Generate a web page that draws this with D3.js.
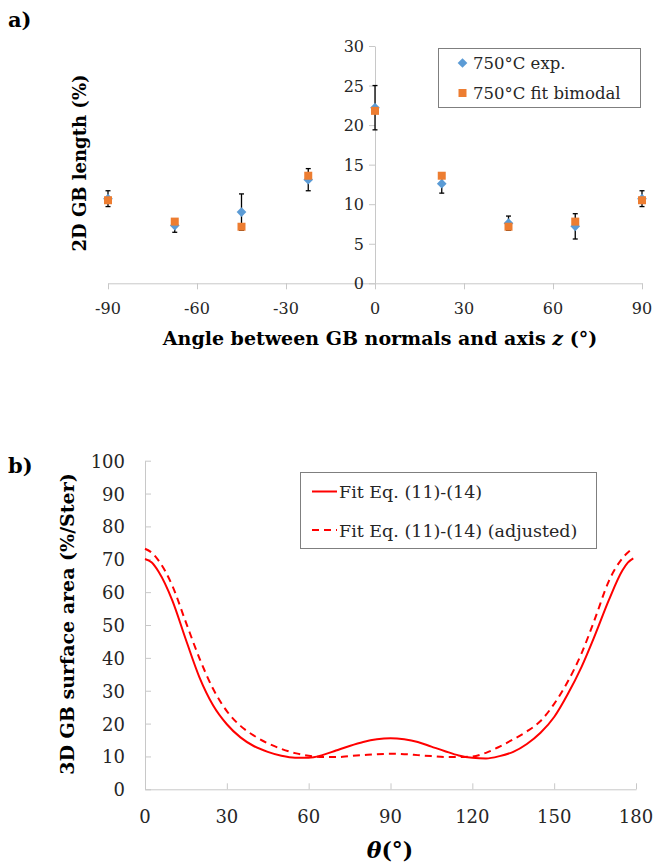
<!DOCTYPE html>
<html>
<head>
<meta charset="utf-8">
<script src="https://cdn.jsdelivr.net/npm/d3@7"></script>
<style>
  body { margin: 0; background: #fff; }
  svg { display: block; font-family: 'DejaVu Serif', serif; }
</style>
</head>
<body>
<div id="chart"></div>
<script>
// panel a data: 2D GB length vs angle
const anglesA = [-90, -67.5, -45, -22.5, 0, 22.5, 45, 67.5, 90];
const expVals = [10.7, 7.3, 9.0, 13.1, 22.2, 12.6, 7.6, 7.2, 10.7];
const expErr = [1.0, 0.85, 2.3, 1.4, 2.8, 1.2, 0.9, 1.6, 1.0];
const fitVals = [10.5, 7.8, 7.15, 13.6, 21.8, 13.6, 7.15, 7.8, 10.5];
const ticksAx = [-90, -60, -30, 0, 30, 60, 90];
const ticksAy = [0, 5, 10, 15, 20, 25, 30];

// panel b data: 3D GB surface area vs theta
const thetaFit = [0, 2.5, 5, 10, 15, 20, 25, 30, 35, 40, 45, 50, 55, 60, 65, 70, 75, 80, 85, 90,
  95, 100, 105, 110, 115, 120, 125, 130, 135, 140, 145, 150, 155, 160, 165, 170, 175, 177, 179];
const fitSolid = [70.1, 69.0, 66.2, 57.5, 45.5, 34.0, 25.5, 19.8, 15.8, 13.1, 11.4, 10.2, 9.6, 9.6, 10.4, 11.8, 13.2, 14.4, 15.2, 15.5,
  15.2, 14.4, 13.0, 11.6, 10.3, 9.6, 9.4, 10.1, 11.4, 13.8, 17.2, 22.0, 29.0, 37.2, 47.0, 57.5, 66.6, 69.0, 70.3];
const thetaAdj = [0, 2.5, 5, 10, 15, 20, 25, 30, 35, 40, 45, 50, 55, 60, 65, 70, 75, 80, 85, 90,
  95, 100, 105, 110, 115, 120, 125, 130, 135, 140, 145, 150, 155, 160, 165, 170, 175, 178];
const fitAdjusted = [73.2, 72.0, 69.6, 62.0, 50.8, 39.8, 30.5, 23.8, 19.3, 16.3, 14.0, 12.3, 11.0, 10.2, 9.8, 9.8, 10.1, 10.4, 10.7, 10.8,
  10.7, 10.4, 10.1, 9.8, 9.8, 10.0, 11.1, 13.0, 15.2, 17.6, 20.8, 26.0, 32.8, 41.3, 52.0, 63.3, 70.3, 72.8];
const ticksBx = [0, 30, 60, 90, 120, 150, 180];
const ticksBy = [0, 10, 20, 30, 40, 50, 60, 70, 80, 90, 100];

const W = 656, H = 866;
const axisGrey = "#c8c8c8";
const textCol = "#262626";
const blue = "#5b9bd5", orange = "#ed7d31", red = "#ff0000";

const svg = d3.select("#chart").append("svg")
    .attr("width", W).attr("height", H);
svg.append("rect").attr("width", W).attr("height", H).attr("fill", "#fff");

// ---------- panel a ----------
const xa = d3.scaleLinear().domain([-90, 90]).range([108, 642]);
const ya = d3.scaleLinear().domain([0, 30]).range([283.3, 46]);

svg.append("text").attr("x", 8).attr("y", 27)
    .style("font-size", "21px").style("font-weight", "bold").text("a)");

const gA = svg.append("g");
// x axis (outside ticks)
gA.append("g").attr("transform", `translate(0,${ya(0)})`)
    .call(d3.axisBottom(xa).tickValues(ticksAx).tickSize(6).tickSizeOuter(0).tickFormat(""))
    .call(g => g.select(".domain").attr("stroke", axisGrey))
    .call(g => g.selectAll(".tick line").attr("stroke", axisGrey));
gA.selectAll(".xlab").data(ticksAx).join("text")
    .attr("x", d => xa(d)).attr("y", 314)
    .attr("text-anchor", "middle").style("font-size", "16px").attr("fill", textCol)
    .text(d => d);

// y axis at x = 0
gA.append("g").attr("transform", `translate(${xa(0)},0)`)
    .call(d3.axisLeft(ya).tickValues(ticksAy).tickSize(6).tickSizeOuter(0).tickFormat(""))
    .call(g => g.select(".domain").attr("stroke", axisGrey))
    .call(g => g.selectAll(".tick line").attr("stroke", axisGrey));
gA.selectAll(".ylab").data(ticksAy).join("text")
    .attr("x", xa(0) - 11).attr("y", d => ya(d) + 6)
    .attr("text-anchor", "end").style("font-size", "16px").attr("fill", textCol)
    .text(d => d);

// error bars
const errG = gA.append("g").attr("stroke", "#000").attr("stroke-width", 1.3);
anglesA.forEach((a, i) => {
    const x = xa(a), y0 = ya(expVals[i] - expErr[i]), y1 = ya(expVals[i] + expErr[i]);
    errG.append("line").attr("x1", x).attr("x2", x).attr("y1", y0).attr("y2", y1);
    errG.append("line").attr("x1", x - 2.5).attr("x2", x + 2.5).attr("y1", y0).attr("y2", y0);
    errG.append("line").attr("x1", x - 2.5).attr("x2", x + 2.5).attr("y1", y1).attr("y2", y1);
});

const diamond = d3.symbol().type(d3.symbolDiamond2).size(60);
const square = d3.symbol().type(d3.symbolSquare).size(64);

gA.append("g").selectAll("path").data(anglesA).join("path")
    .attr("transform", (d, i) => `translate(${xa(d)},${ya(expVals[i])})`)
    .attr("d", diamond).attr("fill", blue);
gA.append("g").selectAll("rect").data(anglesA).join("path")
    .attr("transform", (d, i) => `translate(${xa(d)},${ya(fitVals[i])})`)
    .attr("d", square).attr("fill", orange);

// titles
svg.append("text").attr("x", 380).attr("y", 345)
    .attr("text-anchor", "middle").style("font-size", "19px").style("font-weight", "bold")
    .call(t => {
        t.append("tspan").text("Angle between GB normals and axis ");
        t.append("tspan").style("font-style", "italic").text("z");
        t.append("tspan").text(" (°)");
    });
svg.append("text").attr("transform", "translate(86,163) rotate(-90)")
    .attr("text-anchor", "middle").style("font-size", "18px").style("font-weight", "bold")
    .text("2D GB length (%)");

// legend a
const legA = svg.append("g");
legA.append("rect").attr("x", 438.5).attr("y", 48.5).attr("width", 202).attr("height", 59)
    .attr("fill", "#fff").attr("stroke", "#7f7f7f").attr("stroke-width", 1);
legA.append("path").attr("transform", "translate(462.5,63)").attr("d", diamond).attr("fill", blue);
legA.append("path").attr("transform", "translate(462.5,93)").attr("d", square).attr("fill", orange);
legA.append("text").attr("x", 473).attr("y", 69).style("font-size", "16.5px").attr("fill", textCol).text("750°C exp.");
legA.append("text").attr("x", 473).attr("y", 99).style("font-size", "16.5px").attr("fill", textCol).text("750°C fit bimodal");

// ---------- panel b ----------
const xb = d3.scaleLinear().domain([0, 180]).range([145, 636]);
const yb = d3.scaleLinear().domain([0, 100]).range([789.3, 460.7]);

svg.append("text").attr("x", 8).attr("y", 473)
    .style("font-size", "21px").style("font-weight", "bold").text("b)");

const gB = svg.append("g");
gB.append("g").attr("transform", `translate(0,${yb(0)})`)
    .call(d3.axisTop(xb).tickValues(ticksBx).tickSize(6).tickSizeOuter(0).tickFormat(""))
    .call(g => g.select(".domain").attr("stroke", axisGrey))
    .call(g => g.selectAll(".tick line").attr("stroke", axisGrey));
gB.selectAll(".xlab").data(ticksBx).join("text")
    .attr("x", d => xb(d)).attr("y", 823)
    .attr("text-anchor", "middle").style("font-size", "18px").attr("fill", textCol)
    .text(d => d);

gB.append("g").attr("transform", `translate(${xb(0)},0)`)
    .call(d3.axisRight(yb).tickValues(ticksBy).tickSize(6).tickSizeOuter(0).tickFormat(""))
    .call(g => g.select(".domain").attr("stroke", axisGrey))
    .call(g => g.selectAll(".tick line").attr("stroke", axisGrey));
gB.selectAll(".ylab").data(ticksBy).join("text")
    .attr("x", 125).attr("y", d => yb(d) + 7)
    .attr("text-anchor", "end").style("font-size", "18px").attr("fill", textCol)
    .text(d => d);

const lineSolid = d3.line()
    .x((d, i) => xb(thetaFit[i])).y(d => yb(d))
    .curve(d3.curveMonotoneX);
const lineAdj = d3.line()
    .x((d, i) => xb(thetaAdj[i])).y(d => yb(d))
    .curve(d3.curveMonotoneX);

gB.append("path").datum(fitSolid).attr("d", lineSolid)
    .attr("fill", "none").attr("stroke", red).attr("stroke-width", 2);
gB.append("path").datum(fitAdjusted).attr("d", lineAdj)
    .attr("fill", "none").attr("stroke", red).attr("stroke-width", 2)
    .attr("stroke-dasharray", "7,5");

// titles b
svg.append("text").attr("x", 390).attr("y", 858)
    .attr("text-anchor", "middle").style("font-size", "22px").style("font-weight", "bold")
    .call(t => {
        t.append("tspan").style("font-style", "italic").text("θ");
        t.append("tspan").text("(°)");
    });
svg.append("text").attr("transform", "translate(74,624) rotate(-90)")
    .attr("text-anchor", "middle").style("font-size", "19px").style("font-weight", "bold")
    .text("3D GB surface area (%/Ster)");

// legend b
const legB = svg.append("g");
legB.append("rect").attr("x", 300.5).attr("y", 472.5).attr("width", 296).attr("height", 76)
    .attr("fill", "#fff").attr("stroke", "#7f7f7f").attr("stroke-width", 1);
legB.append("line").attr("x1", 312).attr("x2", 337).attr("y1", 491.5).attr("y2", 491.5)
    .attr("stroke", red).attr("stroke-width", 2);
legB.append("line").attr("x1", 312).attr("x2", 337).attr("y1", 530).attr("y2", 530)
    .attr("stroke", red).attr("stroke-width", 2).attr("stroke-dasharray", "7,5");
legB.append("text").attr("x", 339).attr("y", 498).style("font-size", "17.5px").attr("fill", textCol).text("Fit Eq. (11)-(14)");
legB.append("text").attr("x", 339).attr("y", 537).style("font-size", "17.5px").attr("fill", textCol).text("Fit Eq. (11)-(14) (adjusted)");
</script>
</body>
</html>
